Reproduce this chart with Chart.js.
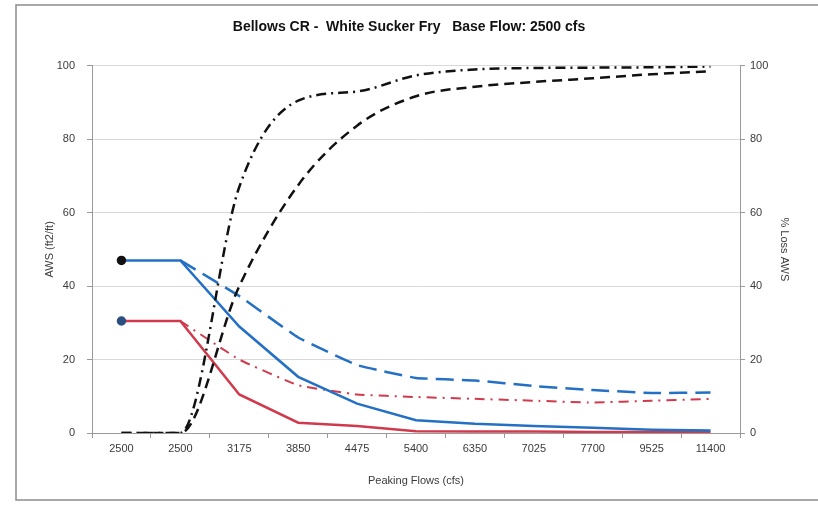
<!DOCTYPE html>
<html>
<head>
<meta charset="utf-8">
<script src="https://cdn.jsdelivr.net/npm/chart.js@4"></script>
<style>
  html, body { margin: 0; padding: 0; background: #fff; }
  #wrap { width: 818px; height: 505px; }
</style>
</head>
<body>
<div id="wrap"><canvas id="chart"></canvas></div>
<script>
// peaking flow categories (x axis)
const flows = ['2500', '2500', '3175', '3850', '4475', '5400', '6350', '7025', '7700', '9525', '11400'];

// AWS (ft2/ft), left axis
const awsBlue = [47, 47, 29, 15.3, 8, 3.5, 2.5, 1.9, 1.4, 0.9, 0.7];
const awsBlueDash = [null, 47, 37.3, 26, 18.5, 15, 14.3, 12.8, 11.7, 10.9, 11];
const awsRed = [30.5, 30.5, 10.5, 2.8, 1.9, 0.5, 0.4, 0.4, 0.3, 0.3, 0.3];
const awsRedDash = [null, 30.5, 20, 13, 10.5, 9.8, 9.3, 8.8, 8.3, 8.8, 9.3];

// % loss AWS, right axis
const lossDashDot = [0, 0, 67, 90.5, 93, 97.4, 99, 99.4, 99.5, 99.6, 99.8];
const lossDash = [0, 0, 40, 67.5, 83.7, 91.7, 94.3, 95.6, 96.6, 97.7, 98.5];

const yTicks = [0, 20, 40, 60, 80, 100];

const firstDot = (r) => flows.map((f, i) => (i === 0 ? r : 0));

// grey frame round the whole chart
const framePlugin = {
  id: 'frame',
  beforeDraw(chart) {
    const ctx = chart.ctx;
    ctx.save();
    ctx.strokeStyle = '#8c8c8c';
    ctx.lineWidth = 1.5;
    ctx.strokeRect(16, 5, 840, 495);
    ctx.restore();
  }
};

const textColor = '#3a3a3a';
const tickFont = { family: 'Liberation Sans, Arial, sans-serif', size: 11 };

new Chart(document.getElementById('chart').getContext('2d'), {
  type: 'line',
  data: {
    labels: flows,
    datasets: [
      {
        label: 'Loss dash-dot',
        data: lossDashDot,
        yAxisID: 'y1',
        borderColor: '#111',
        borderWidth: 2.5,
        borderDash: [10, 5, 2, 5],
        cubicInterpolationMode: 'monotone',
        pointRadius: 0,
      },
      {
        label: 'Loss dashed',
        data: lossDash,
        yAxisID: 'y1',
        borderColor: '#111',
        borderWidth: 2.5,
        borderDash: [10, 6],
        cubicInterpolationMode: 'monotone',
        pointRadius: 0,
      },
      {
        label: 'AWS blue',
        data: awsBlue,
        yAxisID: 'y',
        borderColor: '#2470c4',
        borderWidth: 2.5,
        tension: 0,
        pointRadius: firstDot(3.5),
        pointBackgroundColor: '#111',
        pointBorderColor: '#111',
      },
      {
        label: 'AWS blue dashed',
        data: awsBlueDash,
        yAxisID: 'y',
        borderColor: '#2470c4',
        borderWidth: 2.5,
        borderDash: [18, 8],
        tension: 0.1,
        pointRadius: 0,
      },
      {
        label: 'AWS red',
        data: awsRed,
        yAxisID: 'y',
        borderColor: '#d03a4c',
        borderWidth: 2.5,
        tension: 0,
        pointRadius: firstDot(3.5),
        pointBackgroundColor: '#2a4f80',
        pointBorderColor: '#2a4f80',
      },
      {
        label: 'AWS red dash-dot',
        data: awsRedDash,
        yAxisID: 'y',
        borderColor: '#d03a4c',
        borderWidth: 2,
        borderDash: [10, 6, 2, 6],
        tension: 0.1,
        pointRadius: 0,
      },
    ],
  },
  options: {
    responsive: true,
    maintainAspectRatio: false,
    animation: false,
    layout: { padding: 0 },
    plugins: {
      legend: { display: false },
      tooltip: { enabled: false },
      title: {
        display: true,
        text: 'Bellows CR -  White Sucker Fry   Base Flow: 2500 cfs',
        color: '#111',
        font: { family: 'Liberation Sans, Arial, sans-serif', size: 14, weight: 'bold' },
        padding: { top: 19, bottom: 30 },
      },
    },
    scales: {
      x: {
        offset: true,
        grid: { offset: true, drawOnChartArea: false, tickLength: 5, color: '#9a9a9a' },
        border: { color: '#9a9a9a' },
        ticks: { color: textColor, font: tickFont, padding: 4, maxRotation: 0, autoSkip: false },
        title: {
          display: true,
          text: 'Peaking Flows (cfs)',
          color: textColor,
          font: tickFont,
          padding: { top: 0, bottom: 17 },
        },
        afterFit(scale) { scale.height = 72; },
      },
      y: {
        position: 'left',
        min: 0,
        max: 100,
        afterBuildTicks(scale) { scale.ticks = yTicks.map(v => ({ value: v })); },
        grid: { color: '#d9d9d9', tickLength: 5, tickColor: '#9a9a9a' },
        border: { color: '#9a9a9a' },
        ticks: { color: textColor, font: tickFont, padding: 12 },
        title: {
          display: true,
          text: 'AWS (ft2/ft)',
          color: textColor,
          font: tickFont,
          padding: { top: 43, bottom: 0 },
        },
        afterFit(scale) { scale.width = 92; },
      },
      y1: {
        position: 'right',
        min: 0,
        max: 100,
        afterBuildTicks(scale) { scale.ticks = yTicks.map(v => ({ value: v })); },
        grid: { drawOnChartArea: false, tickLength: 5, color: '#9a9a9a' },
        border: { color: '#9a9a9a' },
        ticks: { color: textColor, font: tickFont, padding: 5 },
        title: {
          display: true,
          text: '% Loss AWS',
          color: textColor,
          font: tickFont,
          padding: { top: 27, bottom: 0 },
        },
        afterFit(scale) { scale.width = 78; },
      },
    },
  },
  plugins: [framePlugin],
});
</script>
</body>
</html>
